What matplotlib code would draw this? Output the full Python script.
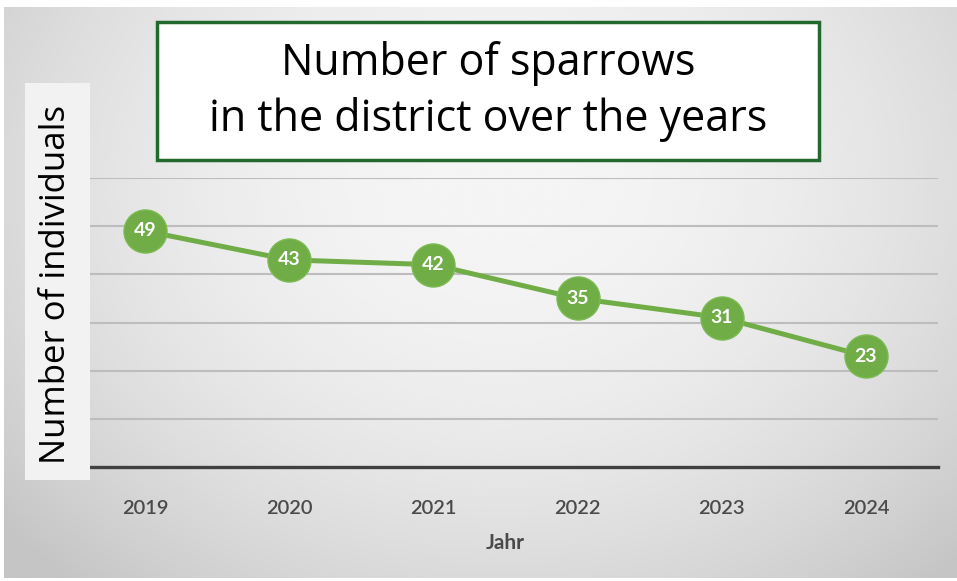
import matplotlib
matplotlib.use("Agg")
import matplotlib.pyplot as plt
from matplotlib.patches import Rectangle
import numpy as np

years = ["2019", "2020", "2021", "2022", "2023", "2024"]
counts = [49, 43, 42, 35, 31, 23]
title_lines = ["Number of sparrows", "in the district over the years"]
ylabel = "Number of individuals"
xlabel = "Jahr"

W, H = 957, 581
green = "#70ad47"

fig = plt.figure(figsize=(W / 100, H / 100), dpi=100)
fig.patch.set_facecolor("white")

# background: soft radial gray gradient
bg = fig.add_axes([4 / W, 3 / H, 953 / W, 571 / H], zorder=-10)
gx, gy = np.meshgrid(np.linspace(0, 1, 400), np.linspace(0, 1, 250))
d2 = ((gx - 0.52) / 0.55) ** 2 + ((gy - 0.30) / 0.75) ** 2
shade = np.clip(0.96 - 0.12 * d2, 0.77, 0.965)
bg.imshow(shade, cmap="gray", vmin=0, vmax=1, aspect="auto",
          extent=[0, 1, 1, 0], interpolation="bicubic")
bg.axis("off")

# main plot
ax = fig.add_axes([73 / W, 114 / H, 865 / W, 289 / H])
ax.set_facecolor("none")
x = np.arange(len(years))
ax.set_xlim(-0.5, len(years) - 0.5)
ax.set_ylim(0, 60)
ax.set_yticks([10, 20, 30, 40, 50, 60])
ax.yaxis.grid(True, color="#bdbdbd", lw=1.5)
ax.set_axisbelow(True)
for s in ["left", "right", "top"]:
    ax.spines[s].set_visible(False)
ax.spines["bottom"].set_color("#404040")
ax.spines["bottom"].set_linewidth(2.4)
ax.tick_params(axis="y", left=False, labelleft=False)
ax.tick_params(axis="x", bottom=False, pad=20)
ax.set_xticks(x)
ax.set_xticklabels(years, fontsize=14.5, color="#4a4a4a", family="Lato",
                   fontweight="semibold")

ax.plot(x, counts, color=green, lw=3.6, marker="o", ms=31,
        mfc=green, mec="#7cba52", mew=1, clip_on=False, zorder=3)
for xi, v in zip(x, counts):
    ax.text(xi, v, str(v), ha="center", va="center", color="white",
            fontsize=14, fontweight="bold", family="Lato", zorder=4)

ax.set_xlabel(xlabel, fontsize=15, fontweight="bold", color="#4a4a4a",
              family="Lato", labelpad=12)

# y label box
fig.patches.append(Rectangle((25 / W, 101 / H), 65 / W, 397 / H,
                             transform=fig.transFigure, facecolor="#f2f2f2",
                             edgecolor="none", zorder=5))
fig.text(56 / W, 0.51, ylabel, rotation=90, ha="center", va="center",
         fontsize=25, color="black", family="Open Sans", zorder=6)

# title box
fig.patches.append(Rectangle((157 / W, 421 / H), 662 / W, 138 / H,
                             transform=fig.transFigure, facecolor="white",
                             edgecolor="#23692d", lw=2.5, zorder=5))
fig.text(488 / W, (H - 64) / H, title_lines[0], ha="center", va="center",
         fontsize=31, color="black", family="Open Sans", zorder=6)
fig.text(488 / W, (H - 120) / H, title_lines[1], ha="center", va="center",
         fontsize=31, color="black", family="Open Sans", zorder=6)

fig.savefig("out.png", dpi=100)
